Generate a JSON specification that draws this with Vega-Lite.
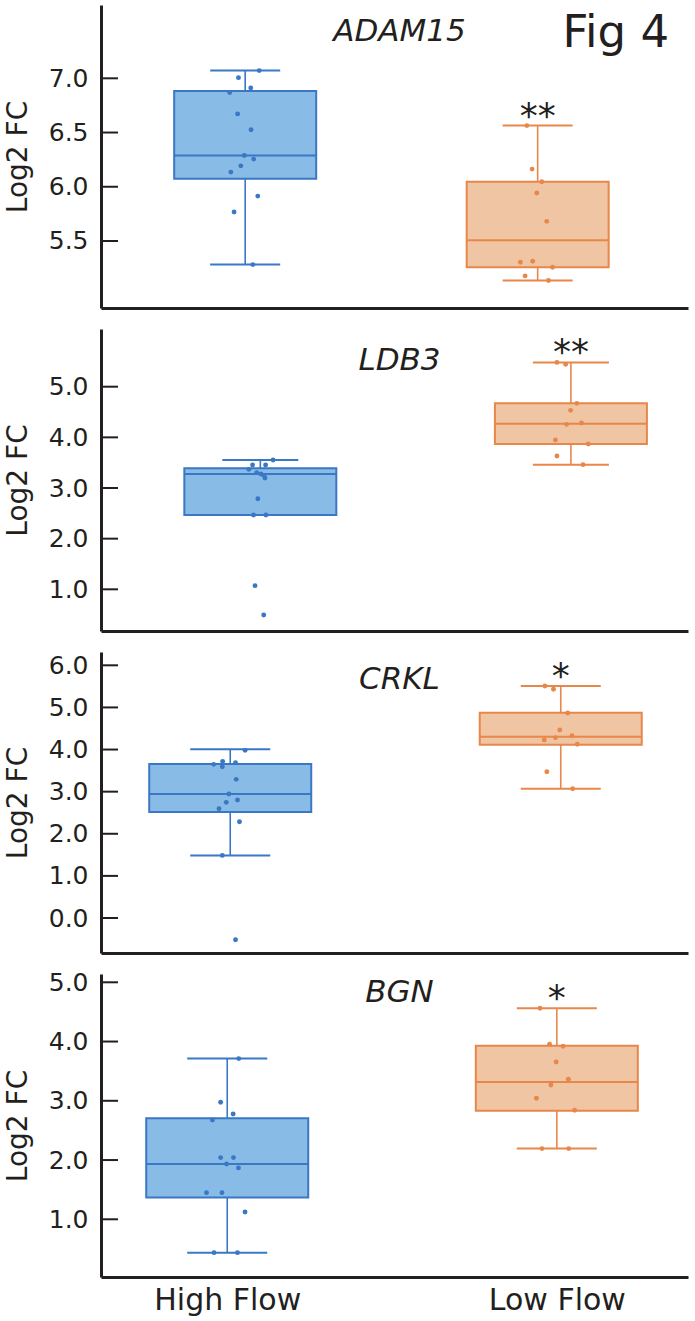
{
  "$schema": "https://vega.github.io/schema/vega-lite/v6.json",
  "padding": {"left": 4, "top": 5, "right": 5, "bottom": 5},
  "background": "white",
  "datasets": {
    "s1": [
      {"group": "High Flow", "g": 1, "lower": 5.282, "q1": 6.074, "median": 6.288, "q3": 6.883, "upper": 7.071, "sig": ""},
      {"group": "Low Flow", "g": 2, "lower": 5.135, "q1": 5.258, "median": 5.506, "q3": 6.046, "upper": 6.564, "sig": "**"}
    ],
    "s2": [
      {"group": "High Flow", "g": 1, "lower": 2.467, "q1": 2.467, "median": 3.276, "q3": 3.388, "upper": 3.553, "sig": ""},
      {"group": "Low Flow", "g": 2, "lower": 3.461, "q1": 3.868, "median": 4.27, "q3": 4.671, "upper": 5.48, "sig": "**"}
    ],
    "s3": [
      {"group": "High Flow", "g": 1, "lower": 1.487, "q1": 2.516, "median": 2.944, "q3": 3.656, "upper": 4.005, "sig": ""},
      {"group": "Low Flow", "g": 2, "lower": 3.07, "q1": 4.116, "median": 4.306, "q3": 4.876, "upper": 5.509, "sig": "*"}
    ],
    "s4": [
      {"group": "High Flow", "g": 1, "lower": 0.437, "q1": 1.366, "median": 1.934, "q3": 2.705, "upper": 3.712, "sig": ""},
      {"group": "Low Flow", "g": 2, "lower": 2.193, "q1": 2.834, "median": 3.318, "q3": 3.931, "upper": 4.561, "sig": "*"}
    ],
    "p1": [
      {"group": "High Flow", "x": 1.048, "v": 7.071},
      {"group": "High Flow", "x": 0.977, "v": 7.006},
      {"group": "High Flow", "x": 1.019, "v": 6.911},
      {"group": "High Flow", "x": 0.947, "v": 6.868},
      {"group": "High Flow", "x": 0.974, "v": 6.672},
      {"group": "High Flow", "x": 1.02, "v": 6.525},
      {"group": "High Flow", "x": 0.997, "v": 6.288},
      {"group": "High Flow", "x": 1.029, "v": 6.255},
      {"group": "High Flow", "x": 0.985, "v": 6.193},
      {"group": "High Flow", "x": 0.951, "v": 6.135},
      {"group": "High Flow", "x": 1.043, "v": 5.914},
      {"group": "High Flow", "x": 0.962, "v": 5.767},
      {"group": "High Flow", "x": 1.026, "v": 5.282},
      {"group": "Low Flow", "x": 1.963, "v": 6.564},
      {"group": "Low Flow", "x": 1.981, "v": 6.163},
      {"group": "Low Flow", "x": 2.014, "v": 6.046},
      {"group": "Low Flow", "x": 1.997, "v": 5.942},
      {"group": "Low Flow", "x": 2.031, "v": 5.681},
      {"group": "Low Flow", "x": 1.983, "v": 5.313},
      {"group": "Low Flow", "x": 1.941, "v": 5.304},
      {"group": "Low Flow", "x": 2.051, "v": 5.258},
      {"group": "Low Flow", "x": 1.957, "v": 5.178},
      {"group": "Low Flow", "x": 2.037, "v": 5.135}
    ],
    "p2": [
      {"group": "High Flow", "x": 1.041, "v": 3.553},
      {"group": "High Flow", "x": 0.975, "v": 3.454},
      {"group": "High Flow", "x": 1.017, "v": 3.454},
      {"group": "High Flow", "x": 0.963, "v": 3.368},
      {"group": "High Flow", "x": 0.988, "v": 3.303},
      {"group": "High Flow", "x": 1.002, "v": 3.276},
      {"group": "High Flow", "x": 1.011, "v": 3.25},
      {"group": "High Flow", "x": 1.015, "v": 3.197},
      {"group": "High Flow", "x": 0.992, "v": 2.789},
      {"group": "High Flow", "x": 0.978, "v": 2.467},
      {"group": "High Flow", "x": 1.018, "v": 2.467},
      {"group": "High Flow", "x": 0.983, "v": 1.072},
      {"group": "High Flow", "x": 1.011, "v": 0.493},
      {"group": "Low Flow", "x": 1.955, "v": 5.48},
      {"group": "Low Flow", "x": 1.983, "v": 5.441},
      {"group": "Low Flow", "x": 2.019, "v": 4.671},
      {"group": "Low Flow", "x": 1.999, "v": 4.533},
      {"group": "Low Flow", "x": 2.034, "v": 4.283},
      {"group": "Low Flow", "x": 1.986, "v": 4.257},
      {"group": "Low Flow", "x": 1.95, "v": 3.947},
      {"group": "Low Flow", "x": 2.056, "v": 3.868},
      {"group": "Low Flow", "x": 1.955, "v": 3.632},
      {"group": "Low Flow", "x": 2.039, "v": 3.461}
    ],
    "p3": [
      {"group": "High Flow", "x": 1.045, "v": 3.981},
      {"group": "High Flow", "x": 0.977, "v": 3.72},
      {"group": "High Flow", "x": 1.016, "v": 3.688},
      {"group": "High Flow", "x": 0.95, "v": 3.648},
      {"group": "High Flow", "x": 0.976, "v": 3.593},
      {"group": "High Flow", "x": 1.018, "v": 3.292},
      {"group": "High Flow", "x": 0.996, "v": 2.944},
      {"group": "High Flow", "x": 1.022, "v": 2.801},
      {"group": "High Flow", "x": 0.988, "v": 2.746},
      {"group": "High Flow", "x": 0.966, "v": 2.595},
      {"group": "High Flow", "x": 1.028, "v": 2.287},
      {"group": "High Flow", "x": 0.976, "v": 1.487},
      {"group": "High Flow", "x": 1.016, "v": -0.516},
      {"group": "Low Flow", "x": 1.952, "v": 5.509},
      {"group": "Low Flow", "x": 1.978, "v": 5.43},
      {"group": "Low Flow", "x": 2.021, "v": 4.868},
      {"group": "Low Flow", "x": 1.997, "v": 4.464},
      {"group": "Low Flow", "x": 2.034, "v": 4.329},
      {"group": "Low Flow", "x": 1.984, "v": 4.282},
      {"group": "Low Flow", "x": 1.95, "v": 4.226},
      {"group": "Low Flow", "x": 2.05, "v": 4.124},
      {"group": "Low Flow", "x": 1.958, "v": 3.474},
      {"group": "Low Flow", "x": 2.036, "v": 3.07}
    ],
    "p4": [
      {"group": "High Flow", "x": 1.035, "v": 3.712},
      {"group": "High Flow", "x": 0.98, "v": 2.975},
      {"group": "High Flow", "x": 1.018, "v": 2.778},
      {"group": "High Flow", "x": 0.955, "v": 2.677},
      {"group": "High Flow", "x": 0.98, "v": 2.041},
      {"group": "High Flow", "x": 1.019, "v": 2.041},
      {"group": "High Flow", "x": 0.998, "v": 1.934},
      {"group": "High Flow", "x": 1.034, "v": 1.867},
      {"group": "High Flow", "x": 0.937, "v": 1.45},
      {"group": "High Flow", "x": 0.984, "v": 1.45},
      {"group": "High Flow", "x": 1.054, "v": 1.124},
      {"group": "High Flow", "x": 0.96, "v": 0.437},
      {"group": "High Flow", "x": 1.031, "v": 0.437},
      {"group": "Low Flow", "x": 1.949, "v": 4.561},
      {"group": "Low Flow", "x": 1.978, "v": 3.954},
      {"group": "Low Flow", "x": 2.019, "v": 3.92},
      {"group": "Low Flow", "x": 1.998, "v": 3.655},
      {"group": "Low Flow", "x": 2.035, "v": 3.363},
      {"group": "Low Flow", "x": 1.982, "v": 3.267},
      {"group": "Low Flow", "x": 1.938, "v": 3.042},
      {"group": "Low Flow", "x": 2.054, "v": 2.84},
      {"group": "Low Flow", "x": 1.955, "v": 2.193},
      {"group": "Low Flow", "x": 2.036, "v": 2.193}
    ]
  },
  "spacing": 21,
  "bounds": "flush",
  "resolve": {"scale": {"x": "independent", "y": "independent"}},
  "vconcat": [
    {
      "width": 587, "height": 303,
      "title": {"text": "ADAM15", "offset": -43, "dx": 5},
      "layer": [
        {"data": {"name": "s1"}, "mark": {"type": "rule", "strokeWidth": 1.6},
         "encoding": {
           "x": {"field": "g", "type": "quantitative", "scale": {"domain": [0.507, 2.514], "nice": false, "zero": false}, "axis": {"ticks": false, "labels": false, "title": null}},
           "y": {"field": "lower", "type": "quantitative", "scale": {"domain": [4.882, 7.676], "nice": false, "zero": false}, "axis": {"values": [5.5, 6, 6.5, 7], "format": ".1f", "title": "Log2 FC"}},
           "y2": {"field": "upper"},
           "color": {"field": "group", "type": "nominal", "scale": {"domain": ["High Flow", "Low Flow"], "range": ["#3a77c5", "#e8874a"]}, "legend": null}}},
        {"data": {"values": [{"t": 5.5}, {"t": 6}, {"t": 6.5}, {"t": 7}]}, "mark": {"type": "rule", "x2Offset": 17, "strokeWidth": 2, "color": "#231f20"},
         "encoding": {"x": {"datum": 0.507}, "x2": {"datum": 0.507}, "y": {"field": "t", "type": "quantitative"}}},
        {"data": {"name": "s1"}, "mark": {"type": "rect", "xOffset": -71, "x2Offset": 71, "strokeWidth": 2},
         "encoding": {
           "x": {"field": "g", "type": "quantitative"}, "x2": {"field": "g"},
           "y": {"field": "q1", "type": "quantitative"}, "y2": {"field": "q3"},
           "fill": {"field": "group", "type": "nominal", "scale": {"domain": ["High Flow", "Low Flow"], "range": ["#88bce6", "#f0c5a3"]}, "legend": null},
           "stroke": {"field": "group", "type": "nominal", "scale": {"domain": ["High Flow", "Low Flow"], "range": ["#3a77c5", "#e8874a"]}, "legend": null}}},
        {"data": {"name": "s1"}, "mark": {"type": "rule", "xOffset": -71, "x2Offset": 71, "strokeWidth": 2},
         "encoding": {"x": {"field": "g", "type": "quantitative"}, "x2": {"field": "g"}, "y": {"field": "median", "type": "quantitative"}, "color": {"field": "group", "type": "nominal", "legend": null}}},
        {"data": {"name": "s1"}, "mark": {"type": "rule", "xOffset": -35, "x2Offset": 35, "strokeWidth": 2},
         "encoding": {"x": {"field": "g", "type": "quantitative"}, "x2": {"field": "g"}, "y": {"field": "upper", "type": "quantitative"}, "color": {"field": "group", "type": "nominal", "legend": null}}},
        {"data": {"name": "s1"}, "mark": {"type": "rule", "xOffset": -35, "x2Offset": 35, "strokeWidth": 2},
         "encoding": {"x": {"field": "g", "type": "quantitative"}, "x2": {"field": "g"}, "y": {"field": "lower", "type": "quantitative"}, "color": {"field": "group", "type": "nominal", "legend": null}}},
        {"data": {"name": "p1"}, "mark": {"type": "circle", "size": 24, "opacity": 1},
         "encoding": {"x": {"field": "x", "type": "quantitative"}, "y": {"field": "v", "type": "quantitative"}, "color": {"field": "group", "type": "nominal", "legend": null}}},
        {"data": {"name": "s1"}, "mark": {"type": "text", "fontSize": 36, "dy": 2, "baseline": "alphabetic", "align": "center", "color": "#231f20"},
         "encoding": {"x": {"field": "g", "type": "quantitative"}, "y": {"field": "upper", "type": "quantitative"}, "text": {"field": "sig"}}},
        {"data": {"values": [{"label": "Fig 4", "lx": 2.267, "ly": 7.29}]}, "mark": {"type": "text", "fontSize": 45, "baseline": "alphabetic", "align": "center", "color": "#231f20"},
         "encoding": {"x": {"field": "lx", "type": "quantitative"}, "y": {"field": "ly", "type": "quantitative"}, "text": {"field": "label"}}}
      ]
    },
    {
      "width": 587, "height": 302,
      "title": {"text": "LDB3", "offset": -48, "dx": 5},
      "layer": [
        {"data": {"name": "s2"}, "mark": {"type": "rule", "strokeWidth": 1.6},
         "encoding": {
           "x": {"field": "g", "type": "quantitative", "scale": {"domain": [0.487, 2.377], "nice": false, "zero": false}, "axis": {"ticks": false, "labels": false, "title": null}},
           "y": {"field": "lower", "type": "quantitative", "scale": {"domain": [0.177, 6.139], "nice": false, "zero": false}, "axis": {"values": [1, 2, 3, 4, 5], "format": ".1f", "title": "Log2 FC"}},
           "y2": {"field": "upper"},
           "color": {"field": "group", "type": "nominal", "legend": null}}},
        {"data": {"values": [{"t": 1}, {"t": 2}, {"t": 3}, {"t": 4}, {"t": 5}]}, "mark": {"type": "rule", "x2Offset": 17, "strokeWidth": 2, "color": "#231f20"},
         "encoding": {"x": {"datum": 0.487}, "x2": {"datum": 0.487}, "y": {"field": "t", "type": "quantitative"}}},
        {"data": {"name": "s2"}, "mark": {"type": "rect", "xOffset": -76, "x2Offset": 76, "strokeWidth": 2},
         "encoding": {
           "x": {"field": "g", "type": "quantitative"}, "x2": {"field": "g"},
           "y": {"field": "q1", "type": "quantitative"}, "y2": {"field": "q3"},
           "fill": {"field": "group", "type": "nominal", "legend": null},
           "stroke": {"field": "group", "type": "nominal", "legend": null}}},
        {"data": {"name": "s2"}, "mark": {"type": "rule", "xOffset": -76, "x2Offset": 76, "strokeWidth": 2},
         "encoding": {"x": {"field": "g", "type": "quantitative"}, "x2": {"field": "g"}, "y": {"field": "median", "type": "quantitative"}, "color": {"field": "group", "type": "nominal", "legend": null}}},
        {"data": {"name": "s2"}, "mark": {"type": "rule", "xOffset": -38, "x2Offset": 38, "strokeWidth": 2},
         "encoding": {"x": {"field": "g", "type": "quantitative"}, "x2": {"field": "g"}, "y": {"field": "upper", "type": "quantitative"}, "color": {"field": "group", "type": "nominal", "legend": null}}},
        {"data": {"name": "s2"}, "mark": {"type": "rule", "xOffset": -38, "x2Offset": 38, "strokeWidth": 2},
         "encoding": {"x": {"field": "g", "type": "quantitative"}, "x2": {"field": "g"}, "y": {"field": "lower", "type": "quantitative"}, "color": {"field": "group", "type": "nominal", "legend": null}}},
        {"data": {"name": "p2"}, "mark": {"type": "circle", "size": 24, "opacity": 1},
         "encoding": {"x": {"field": "x", "type": "quantitative"}, "y": {"field": "v", "type": "quantitative"}, "color": {"field": "group", "type": "nominal", "legend": null}}},
        {"data": {"name": "s2"}, "mark": {"type": "text", "fontSize": 36, "dy": 2, "baseline": "alphabetic", "align": "center", "color": "#231f20"},
         "encoding": {"x": {"field": "g", "type": "quantitative"}, "y": {"field": "upper", "type": "quantitative"}, "text": {"field": "sig"}}}
      ]
    },
    {
      "width": 587, "height": 301,
      "title": {"text": "CRKL", "offset": -44, "dx": 5},
      "layer": [
        {"data": {"name": "s3"}, "mark": {"type": "rule", "strokeWidth": 1.6},
         "encoding": {
           "x": {"field": "g", "type": "quantitative", "scale": {"domain": [0.609, 2.385], "nice": false, "zero": false}, "axis": {"ticks": false, "labels": false, "title": null}},
           "y": {"field": "lower", "type": "quantitative", "scale": {"domain": [-0.831, 6.316], "nice": false, "zero": false}, "axis": {"values": [0, 1, 2, 3, 4, 5, 6], "format": ".1f", "title": "Log2 FC"}},
           "y2": {"field": "upper"},
           "color": {"field": "group", "type": "nominal", "legend": null}}},
        {"data": {"values": [{"t": 0}, {"t": 1}, {"t": 2}, {"t": 3}, {"t": 4}, {"t": 5}, {"t": 6}]}, "mark": {"type": "rule", "x2Offset": 17, "strokeWidth": 2, "color": "#231f20"},
         "encoding": {"x": {"datum": 0.609}, "x2": {"datum": 0.609}, "y": {"field": "t", "type": "quantitative"}}},
        {"data": {"name": "s3"}, "mark": {"type": "rect", "xOffset": -81, "x2Offset": 81, "strokeWidth": 2},
         "encoding": {
           "x": {"field": "g", "type": "quantitative"}, "x2": {"field": "g"},
           "y": {"field": "q1", "type": "quantitative"}, "y2": {"field": "q3"},
           "fill": {"field": "group", "type": "nominal", "legend": null},
           "stroke": {"field": "group", "type": "nominal", "legend": null}}},
        {"data": {"name": "s3"}, "mark": {"type": "rule", "xOffset": -81, "x2Offset": 81, "strokeWidth": 2},
         "encoding": {"x": {"field": "g", "type": "quantitative"}, "x2": {"field": "g"}, "y": {"field": "median", "type": "quantitative"}, "color": {"field": "group", "type": "nominal", "legend": null}}},
        {"data": {"name": "s3"}, "mark": {"type": "rule", "xOffset": -40, "x2Offset": 40, "strokeWidth": 2},
         "encoding": {"x": {"field": "g", "type": "quantitative"}, "x2": {"field": "g"}, "y": {"field": "upper", "type": "quantitative"}, "color": {"field": "group", "type": "nominal", "legend": null}}},
        {"data": {"name": "s3"}, "mark": {"type": "rule", "xOffset": -40, "x2Offset": 40, "strokeWidth": 2},
         "encoding": {"x": {"field": "g", "type": "quantitative"}, "x2": {"field": "g"}, "y": {"field": "lower", "type": "quantitative"}, "color": {"field": "group", "type": "nominal", "legend": null}}},
        {"data": {"name": "p3"}, "mark": {"type": "circle", "size": 24, "opacity": 1},
         "encoding": {"x": {"field": "x", "type": "quantitative"}, "y": {"field": "v", "type": "quantitative"}, "color": {"field": "group", "type": "nominal", "legend": null}}},
        {"data": {"name": "s3"}, "mark": {"type": "text", "fontSize": 36, "dy": 2, "baseline": "alphabetic", "align": "center", "color": "#231f20"},
         "encoding": {"x": {"field": "g", "type": "quantitative"}, "y": {"field": "upper", "type": "quantitative"}, "text": {"field": "sig"}}}
      ]
    },
    {
      "width": 587, "height": 303,
      "title": {"text": "BGN", "offset": -39, "dx": 5},
      "layer": [
        {"data": {"name": "s4"}, "mark": {"type": "rule", "strokeWidth": 1.6},
         "encoding": {
           "x": {"field": "g", "type": "quantitative", "scale": {"domain": [0.617, 2.398], "nice": false, "zero": false}, "axis": {"values": [1, 2], "labelExpr": "datum.value == 1 ? 'High Flow' : 'Low Flow'", "ticks": false, "labelFontSize": 30, "labelPadding": 8, "title": null}},
           "y": {"field": "lower", "type": "quantitative", "scale": {"domain": [0.026, 5.14], "nice": false, "zero": false}, "axis": {"values": [1, 2, 3, 4, 5], "format": ".1f", "title": "Log2 FC"}},
           "y2": {"field": "upper"},
           "color": {"field": "group", "type": "nominal", "legend": null}}},
        {"data": {"values": [{"t": 1}, {"t": 2}, {"t": 3}, {"t": 4}, {"t": 5}]}, "mark": {"type": "rule", "x2Offset": 17, "strokeWidth": 2, "color": "#231f20"},
         "encoding": {"x": {"datum": 0.617}, "x2": {"datum": 0.617}, "y": {"field": "t", "type": "quantitative"}}},
        {"data": {"name": "s4"}, "mark": {"type": "rect", "xOffset": -81, "x2Offset": 81, "strokeWidth": 2},
         "encoding": {
           "x": {"field": "g", "type": "quantitative"}, "x2": {"field": "g"},
           "y": {"field": "q1", "type": "quantitative"}, "y2": {"field": "q3"},
           "fill": {"field": "group", "type": "nominal", "legend": null},
           "stroke": {"field": "group", "type": "nominal", "legend": null}}},
        {"data": {"name": "s4"}, "mark": {"type": "rule", "xOffset": -81, "x2Offset": 81, "strokeWidth": 2},
         "encoding": {"x": {"field": "g", "type": "quantitative"}, "x2": {"field": "g"}, "y": {"field": "median", "type": "quantitative"}, "color": {"field": "group", "type": "nominal", "legend": null}}},
        {"data": {"name": "s4"}, "mark": {"type": "rule", "xOffset": -40, "x2Offset": 40, "strokeWidth": 2},
         "encoding": {"x": {"field": "g", "type": "quantitative"}, "x2": {"field": "g"}, "y": {"field": "upper", "type": "quantitative"}, "color": {"field": "group", "type": "nominal", "legend": null}}},
        {"data": {"name": "s4"}, "mark": {"type": "rule", "xOffset": -40, "x2Offset": 40, "strokeWidth": 2},
         "encoding": {"x": {"field": "g", "type": "quantitative"}, "x2": {"field": "g"}, "y": {"field": "lower", "type": "quantitative"}, "color": {"field": "group", "type": "nominal", "legend": null}}},
        {"data": {"name": "p4"}, "mark": {"type": "circle", "size": 24, "opacity": 1},
         "encoding": {"x": {"field": "x", "type": "quantitative"}, "y": {"field": "v", "type": "quantitative"}, "color": {"field": "group", "type": "nominal", "legend": null}}},
        {"data": {"name": "s4"}, "mark": {"type": "text", "fontSize": 36, "dy": 2, "baseline": "alphabetic", "align": "center", "color": "#231f20"},
         "encoding": {"x": {"field": "g", "type": "quantitative"}, "y": {"field": "upper", "type": "quantitative"}, "text": {"field": "sig"}}}
      ]
    }
  ],
  "config": {
    "font": "DejaVu Sans",
    "view": {"stroke": null},
    "axis": {
      "grid": false,
      "domainColor": "#231f20", "domainWidth": 3,
      "labelColor": "#231f20", "labelFont": "DejaVu Sans", "labelFontSize": 25,
      "titleColor": "#231f20", "titleFont": "DejaVu Sans", "titleFontSize": 28, "titleFontWeight": "normal"
    },
    "axisY": {"ticks": false, "labelPadding": 13, "titlePadding": 16},
    "title": {"font": "DejaVu Sans", "fontSize": 31, "fontStyle": "italic", "fontWeight": "normal", "color": "#231f20", "baseline": "alphabetic", "anchor": "middle"}
  }
}
